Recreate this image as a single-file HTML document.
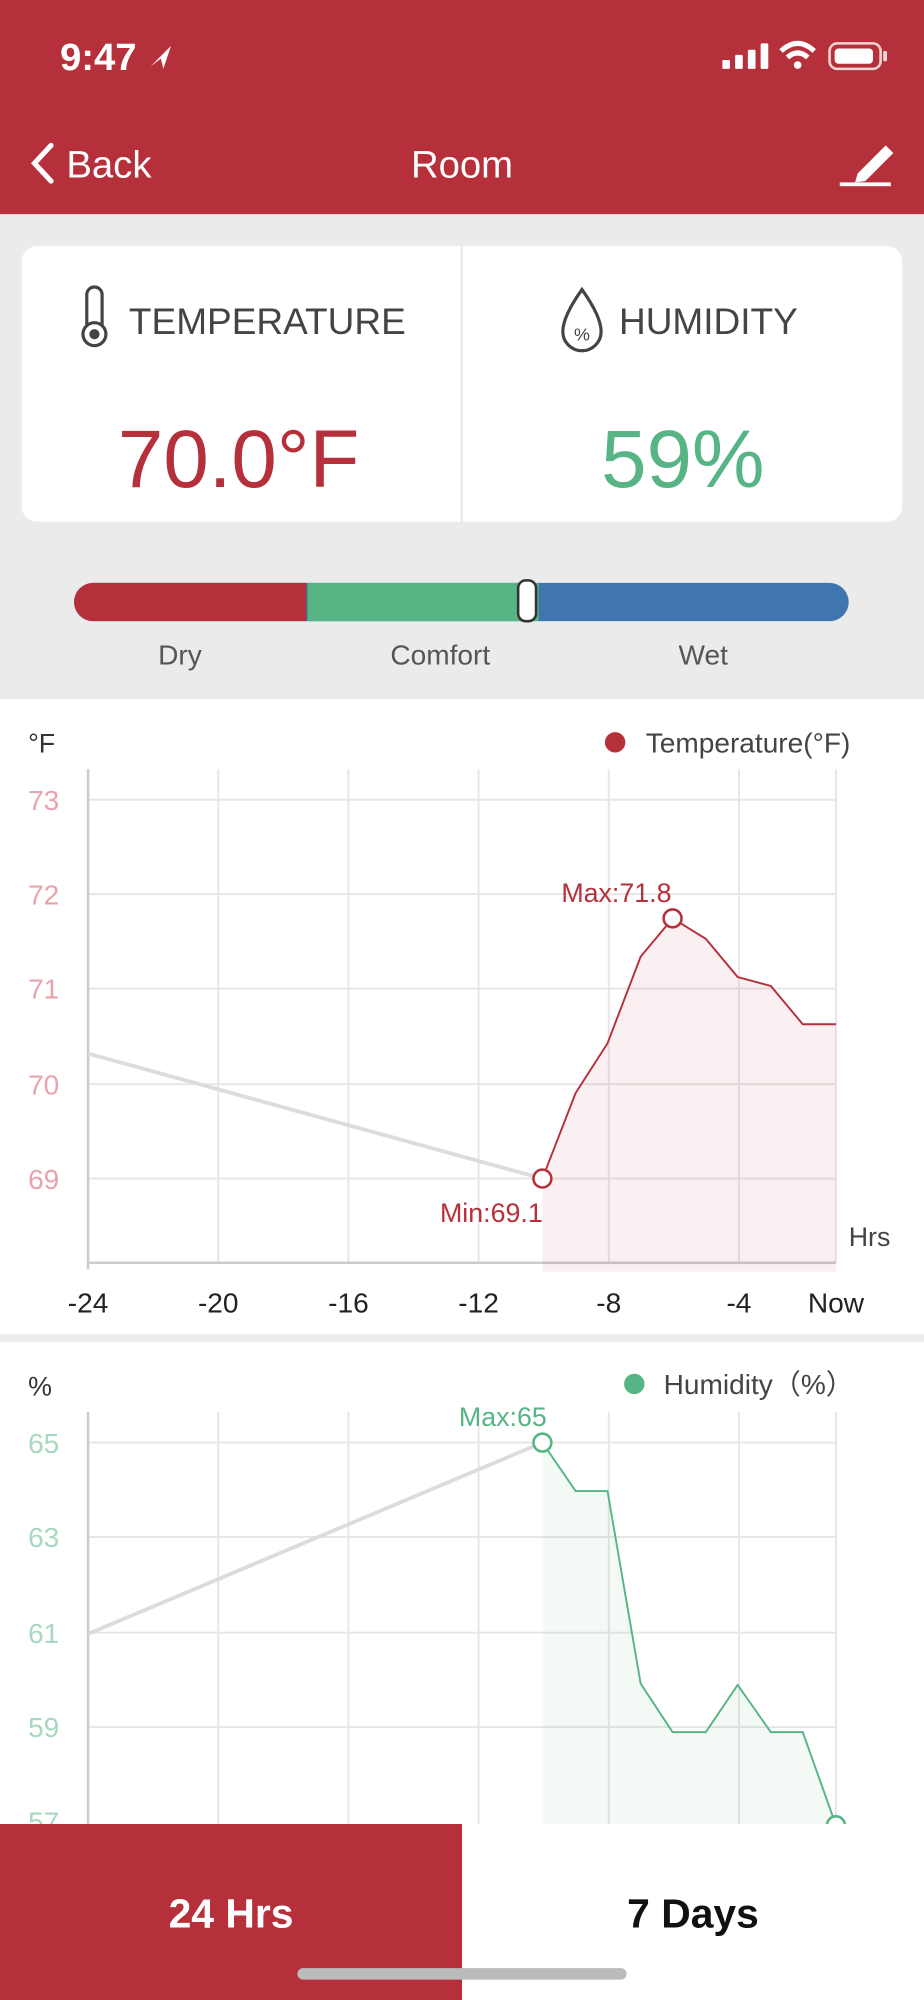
<!DOCTYPE html>
<html><head><meta charset="utf-8"><style>
html,body{margin:0;padding:0;width:924px;height:2000px;overflow:hidden;background:#fff;font-family:"Liberation Sans",sans-serif}
svg{display:block}
</style></head><body>
<svg width="924" height="2000" viewBox="0 0 724 1568" preserveAspectRatio="none" xmlns="http://www.w3.org/2000/svg" font-family="Liberation Sans, sans-serif">
<rect x="0" y="0" width="724" height="168" fill="#B5303A"/>
<text x="47" y="55" fill="#fff" font-size="30" font-weight="bold">9:47</text>
<path d="M118 52 L134 36 L128 54 L126 46 Z" fill="#fff"/>
<g fill="#fff"><rect x="566" y="47" width="6" height="7" rx="1"/><rect x="576" y="43" width="6" height="11" rx="1"/><rect x="586" y="39" width="6" height="15" rx="1"/><rect x="596" y="34" width="6" height="20" rx="1"/></g>
<path d="M612 40 Q625 28 638 40" stroke="#fff" stroke-width="4" fill="none"/><path d="M617 45 Q625 38 633 45" stroke="#fff" stroke-width="4" fill="none"/><circle cx="625" cy="51" r="3" fill="#fff"/>
<rect x="650" y="34" width="40" height="20" rx="6" fill="none" stroke="#fff" stroke-width="2" opacity="0.8"/><rect x="654" y="38" width="30" height="12" rx="3" fill="#fff"/><rect x="692" y="40" width="3" height="8" rx="1" fill="#fff" opacity="0.8"/>
<path d="M40 114 L27 128 L40 142" stroke="#fff" stroke-width="4" fill="none" stroke-linecap="round"/>
<text x="52" y="139" fill="#fff" font-size="30">Back</text>
<text x="362" y="139" fill="#fff" font-size="30" text-anchor="middle">Room</text>
<rect x="658" y="143" width="40" height="3" fill="#fff"/>
<path d="M672 136 L694 114 L700 120 L678 142 L670 143 Z" fill="#fff"/>
<rect x="0" y="168" width="724" height="380" fill="#EBEBEB"/>
<rect x="17" y="193" width="690" height="216" rx="12" fill="#fff"/>
<rect x="361" y="193" width="1.5" height="216" fill="#e4e4e4"/>
<rect x="68" y="225" width="12" height="42" rx="6" fill="none" stroke="#444" stroke-width="2.5"/><circle cx="74" cy="262" r="9" fill="#fff" stroke="#444" stroke-width="2.5"/><circle cx="74" cy="262" r="4" fill="#444"/>
<text x="101" y="262" fill="#444" font-size="29">TEMPERATURE</text>
<path d="M456 227 Q441 248 441 260 A15 15 0 0 0 471 260 Q471 248 456 227 Z" fill="none" stroke="#444" stroke-width="2.5"/>
<text x="456" y="267" fill="#444" font-size="14" text-anchor="middle">%</text>
<text x="485" y="262" fill="#444" font-size="29">HUMIDITY</text>
<text x="187" y="382" fill="#B5303A" font-size="64" text-anchor="middle">70.0°F</text>
<text x="535" y="382" fill="#57B484" font-size="64" text-anchor="middle">59%</text>
<rect x="58" y="457" width="607" height="30" rx="15" fill="#3F76B0"/>
<path d="M73 457 H240 V487 H73 A15 15 0 0 1 73 457 Z" fill="#B5303A"/>
<rect x="241" y="457" width="181" height="30" fill="#57B484"/>
<rect x="406" y="455" width="14" height="32" rx="6" fill="#fff" stroke="#333" stroke-width="2"/>
<text x="141" y="521" fill="#555" font-size="22" text-anchor="middle">Dry</text>
<text x="345" y="521" fill="#555" font-size="22" text-anchor="middle">Comfort</text>
<text x="551" y="521" fill="#555" font-size="22" text-anchor="middle">Wet</text>
<g stroke="#e6e6e6" stroke-width="1.5">
<line x1="69" y1="627" x2="655" y2="627"/><line x1="69" y1="701" x2="655" y2="701"/><line x1="69" y1="775" x2="655" y2="775"/><line x1="69" y1="850" x2="655" y2="850"/><line x1="69" y1="924" x2="655" y2="924"/>
<line x1="171" y1="603" x2="171" y2="990"/><line x1="273" y1="603" x2="273" y2="990"/><line x1="375" y1="603" x2="375" y2="990"/><line x1="477" y1="603" x2="477" y2="990"/><line x1="579" y1="603" x2="579" y2="990"/><line x1="655" y1="603" x2="655" y2="990"/>
</g>
<line x1="69" y1="603" x2="69" y2="995" stroke="#ccc" stroke-width="2"/><line x1="69" y1="990" x2="655" y2="990" stroke="#ccc" stroke-width="2"/>
<text x="22" y="590" fill="#333" font-size="21">°F</text>
<circle cx="482" cy="582" r="8" fill="#B5303A"/><text x="506" y="590" fill="#444" font-size="22">Temperature(°F)</text>
<g fill="#E9A3AC" font-size="22"><text x="22" y="635">73</text><text x="22" y="709">72</text><text x="22" y="783">71</text><text x="22" y="858">70</text><text x="22" y="932">69</text></g>
<text x="665" y="977" fill="#444" font-size="21">Hrs</text>
<g fill="#222" font-size="22" text-anchor="middle"><text x="69" y="1029">-24</text><text x="171" y="1029">-20</text><text x="273" y="1029">-16</text><text x="375" y="1029">-12</text><text x="477" y="1029">-8</text><text x="579" y="1029">-4</text><text x="655" y="1029">Now</text></g>
<line x1="69" y1="826" x2="425" y2="924" stroke="#dcdcdc" stroke-width="3"/>
<path d="M425 924 L451 857 L476 818 L502 750 L527 720 L553 736 L578 766 L604 773 L629 803 L655 803 L655 997 L425 997 Z" fill="#B5303A" opacity="0.07"/>
<polyline points="425,924 451,857 476,818 502,750 527,720 553,736 578,766 604,773 629,803 655,803" fill="none" stroke="#B5303A" stroke-width="1.5"/>
<circle cx="527" cy="720" r="7" fill="#fff" stroke="#B5303A" stroke-width="2"/><circle cx="425" cy="924" r="7" fill="#fff" stroke="#B5303A" stroke-width="2"/>
<text x="483" y="707" fill="#B5303A" font-size="21" text-anchor="middle">Max:71.8</text>
<text x="385" y="958" fill="#B5303A" font-size="21" text-anchor="middle">Min:69.1</text>
<rect x="0" y="1046" width="724" height="6" fill="#EBEBEB"/>
<g stroke="#e6e6e6" stroke-width="1.5">
<line x1="69" y1="1131" x2="655" y2="1131"/><line x1="69" y1="1205" x2="655" y2="1205"/><line x1="69" y1="1280" x2="655" y2="1280"/><line x1="69" y1="1354" x2="655" y2="1354"/>
<line x1="171" y1="1107" x2="171" y2="1430"/><line x1="273" y1="1107" x2="273" y2="1430"/><line x1="375" y1="1107" x2="375" y2="1430"/><line x1="477" y1="1107" x2="477" y2="1430"/><line x1="579" y1="1107" x2="579" y2="1430"/><line x1="655" y1="1107" x2="655" y2="1430"/>
</g>
<line x1="69" y1="1107" x2="69" y2="1430" stroke="#ccc" stroke-width="2"/>
<text x="22" y="1094" fill="#333" font-size="21">%</text>
<circle cx="497" cy="1085" r="8" fill="#57B484"/><text x="520" y="1093" fill="#444" font-size="22">Humidity（%）</text>
<g fill="#A8D8BE" font-size="22"><text x="22" y="1139">65</text><text x="22" y="1213">63</text><text x="22" y="1288">61</text><text x="22" y="1362">59</text><text x="22" y="1436">57</text></g>
<line x1="69" y1="1281" x2="425" y2="1131" stroke="#dcdcdc" stroke-width="3"/>
<path d="M425 1131 L451 1169 L476 1169 L502 1320 L527 1358 L553 1358 L578 1321 L604 1358 L629 1358 L655 1431 L655 1440 L425 1440 Z" fill="#57B484" opacity="0.07"/>
<polyline points="425,1131 451,1169 476,1169 502,1320 527,1358 553,1358 578,1321 604,1358 629,1358 655,1431" fill="none" stroke="#57B484" stroke-width="1.5"/>
<circle cx="425" cy="1131" r="7" fill="#fff" stroke="#57B484" stroke-width="2"/><circle cx="655" cy="1431" r="7" fill="#fff" stroke="#57B484" stroke-width="2"/>
<text x="394" y="1118" fill="#57B484" font-size="21" text-anchor="middle">Max:65</text>
<rect x="0" y="1430" width="362" height="138" fill="#B5303A"/>
<rect x="362" y="1430" width="362" height="138" fill="#fff"/>
<text x="181" y="1511" fill="#fff" font-size="32" font-weight="bold" text-anchor="middle">24 Hrs</text>
<text x="543" y="1511" fill="#111" font-size="32" font-weight="bold" text-anchor="middle">7 Days</text>
<rect x="233" y="1543" width="258" height="9" rx="4.5" fill="#bbb"/>
</svg>
</body></html>
